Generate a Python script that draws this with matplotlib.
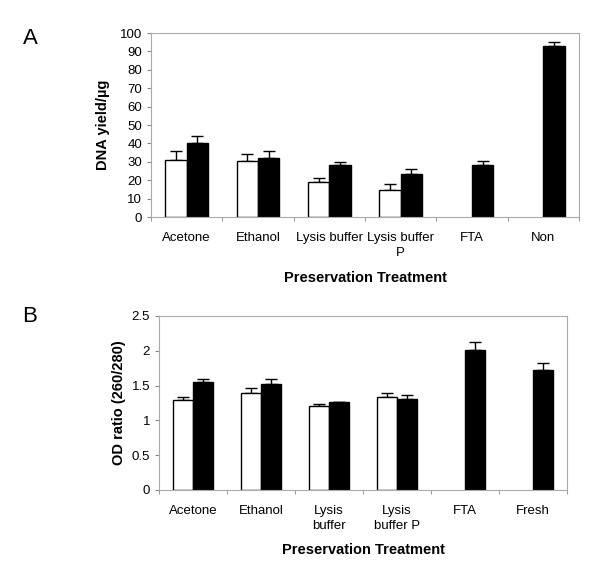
import matplotlib
matplotlib.use('Agg')
import matplotlib.pyplot as plt
import numpy as np

plt.rcParams['font.family'] = ['Liberation Sans', 'DejaVu Sans']

# Panel A: DNA yield
cats_a = ['Acetone', 'Ethanol', 'Lysis buffer', 'Lysis buffer\nP', 'FTA', 'Non']
white_a = [31, 30.5, 19, 14.7, 0, 0]
white_a_err = [5, 3.5, 2, 3.3, 0, 0]
black_a = [40, 32.3, 28, 23.5, 28.5, 93]
black_a_err = [4, 3.3, 2, 2.8, 2, 2]

# Panel B: OD ratio
cats_b = ['Acetone', 'Ethanol', 'Lysis\nbuffer', 'Lysis\nbuffer P', 'FTA', 'Fresh']
white_b = [1.30, 1.40, 1.20, 1.33, 0, 0]
white_b_err = [0.04, 0.07, 0.03, 0.06, 0, 0]
black_b = [1.55, 1.53, 1.26, 1.31, 2.01, 1.73]
black_b_err = [0.04, 0.06, 0.01, 0.05, 0.12, 0.09]

fig = plt.figure(figsize=(6, 5.66), dpi=100)
axA = fig.add_axes([151/600, 1-217/566, 428/600, 184/566])
axB = fig.add_axes([159/600, 1-490/566, 408/600, 174/566])


def draw(ax, cats, w, we, b, be, ymax, step, ylabel):
    x = np.arange(len(cats))
    bw = 0.3
    has_w = [v > 0 for v in w]
    xw = x[has_w] - bw/2
    ax.bar(xw, np.array(w)[has_w], bw, color='white', edgecolor='black', lw=1, zorder=2)
    ax.errorbar(xw, np.array(w)[has_w], yerr=[np.zeros(sum(has_w)), np.array(we)[has_w]],
                fmt='none', ecolor='black', elinewidth=1, capsize=4, capthick=1, zorder=1)
    ax.bar(x + bw/2, b, bw, color='black', edgecolor='black', lw=1, zorder=2)
    ax.errorbar(x + bw/2, b, yerr=[np.zeros(len(b)), be],
                fmt='none', ecolor='black', elinewidth=1, capsize=4, capthick=1, zorder=1)
    ax.set_xlim(-0.5, len(cats) - 0.5)
    ax.set_ylim(0, ymax)
    ax.set_yticks(np.arange(0, ymax + step/2, step))
    ax.set_yticklabels(['%g' % v for v in np.arange(0, ymax + step/2, step)])
    ax.set_xticks(x)
    ax.set_xticklabels(cats, fontsize=9.5, linespacing=1.35)
    ax.set_xticks(np.arange(-0.5, len(cats)), minor=True)
    ax.tick_params(axis='x', which='major', length=0, pad=10.5)
    ax.tick_params(axis='x', which='minor', length=3, color='#888888')
    ax.tick_params(axis='y', length=3, color='#888888', labelsize=9.5)
    for s in ax.spines.values():
        s.set_color('#aaaaaa')
        s.set_linewidth(0.8)
    ax.set_xlabel('Preservation Treatment', fontsize=10.5, fontweight='bold')
    ax.set_ylabel(ylabel, fontsize=10.5, fontweight='bold')


draw(axA, cats_a, white_a, white_a_err, black_a, black_a_err, 100, 10, 'DNA yield/µg')
draw(axB, cats_b, white_b, white_b_err, black_b, black_b_err, 2.5, 0.5, 'OD ratio (260/280)')
axA.xaxis.labelpad = 9
axB.xaxis.labelpad = 8
axA.yaxis.labelpad = 7

fig.text(30/600, 1-38/566, 'A', fontsize=16, ha='center', va='center')
fig.text(30/600, 1-316/566, 'B', fontsize=16, ha='center', va='center')

fig.savefig('out.png', dpi=100)
